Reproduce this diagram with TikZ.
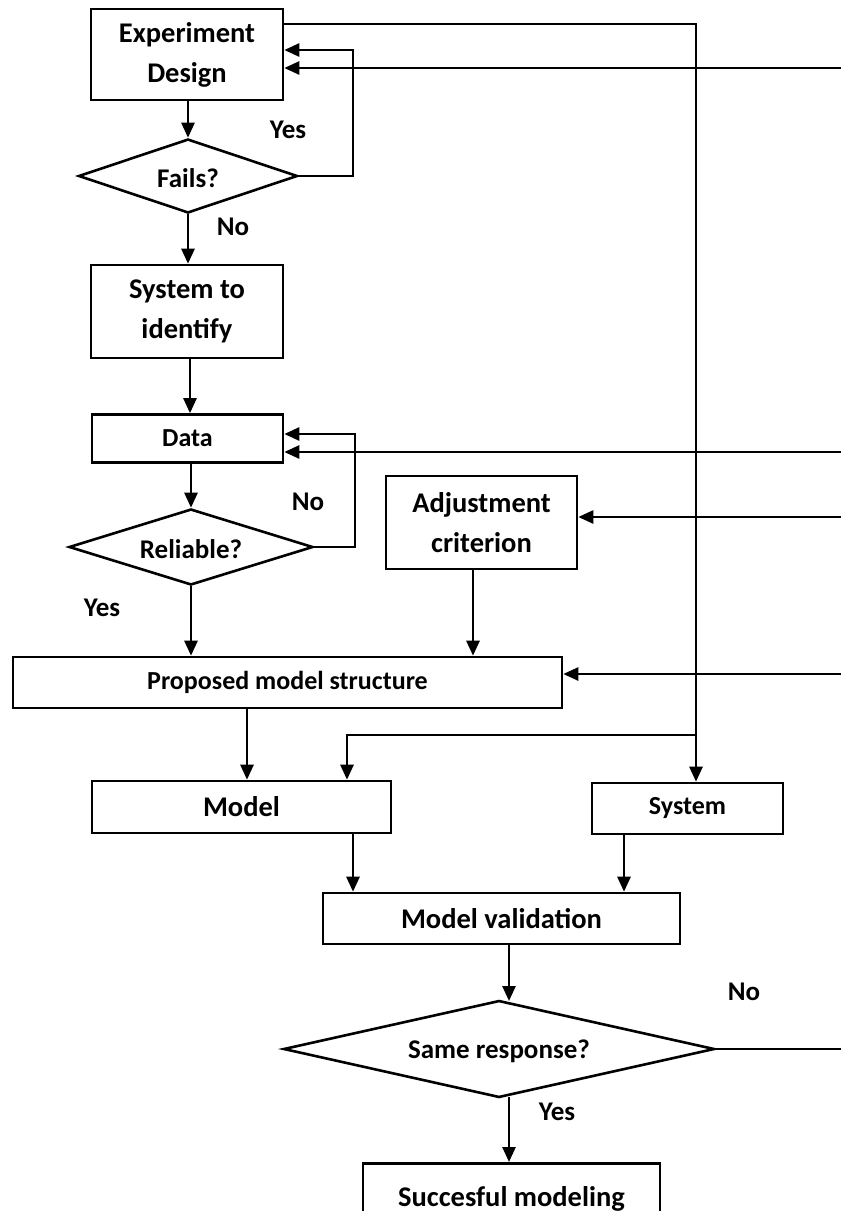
\documentclass[tikz,border=0pt]{standalone}
\usepackage{fontspec}
\setmainfont{Carlito}
\usetikzlibrary{arrows.meta,shapes.geometric}
\tikzset{
  box/.style={draw,line width=2.6pt,rectangle,inner sep=0pt,align=center,font=\bfseries\fontsize{28.5}{40}\selectfont},
  sbox/.style={box,font=\bfseries\fontsize{26}{30}\selectfont},
  dia/.style={draw,line width=2.6pt,diamond,inner sep=0pt},
  lab/.style={font=\bfseries\fontsize{27}{30}\selectfont,inner sep=0pt},
  conn/.style={line width=2.6pt},
  arr/.style={conn,-{Triangle[length=15pt,width=13pt]}},
}
\begin{document}
\begin{tikzpicture}[x=1pt,y=-1pt]
\useasboundingbox (0,0) rectangle (841,1211);
\clip (0,0) rectangle (841,1211);
% boxes
\node[box,minimum width=192pt,minimum height=91pt] (ed) at (187,54.5) {Experiment\\Design};
\node[dia,minimum width=219pt,minimum height=74pt,aspect=2.96] (fails) at (188,176) {};
\node[lab] (failst) at (188,178) {Fails?};
\node[box,minimum width=192pt,minimum height=93pt] (sti) at (187,311.5) {System to\\identify};
\node[sbox,minimum width=191pt,minimum height=48pt] (data) at (187.5,438.5) {Data};
\node[dia,minimum width=244pt,minimum height=76pt,aspect=3.2] (rel) at (191,547) {};
\node[lab] (relt) at (191,549) {Reliable?};
\node[box,minimum width=191pt,minimum height=93pt] (adj) at (481.5,522.5) {Adjustment\\criterion};
\node[sbox,minimum width=549pt,minimum height=51pt] (pms) at (287.5,682.5) {Proposed model structure};
\node[box,minimum width=299pt,minimum height=52pt] (model) at (241.5,807) {Model};
\node[sbox,minimum width=191pt,minimum height=51pt] (sys) at (687.5,808.5) {System};
\node[box,minimum width=357pt,minimum height=51pt] (mv) at (501.5,918.5) {Model validation};
\node[dia,minimum width=431pt,minimum height=97pt,aspect=4.44] (same) at (499,1049) {};
\node[lab] (samet) at (499,1051) {Same response?};
\node[box,minimum width=297pt,minimum height=90pt,anchor=north] (succ) at (511.5,1162) {};
\node[box,draw=none,anchor=base] (succt) at (511.5,1206) {Succesful modeling};
% labels
\node[lab] (y1) at (288,130) {Yes};
\node[lab] (n1) at (233,227) {No};
\node[lab] (n2) at (308,502) {No};
\node[lab] (y2) at (102,608) {Yes};
\node[lab] (n3) at (744,992) {No};
\node[lab] (y3) at (557,1112) {Yes};
% coordinates
\coordinate (vtop) at (696,24);
\coordinate (vbr) at (696,735);
\coordinate (bl) at (347,735);
\coordinate (r1) at (841,68);
\coordinate (r2) at (841,452);
\coordinate (r3) at (841,517);
\coordinate (r4) at (841,674);
\coordinate (r5) at (841,1049);
% main flow
\draw[arr] (ed.south -| fails.north) -- (fails.north);
\draw[arr] (fails.south) -- (sti.north -| fails.south);
\draw[arr] (sti.south -| 190,0) -- (data.north -| 190,0);
\draw[arr] (data.south -| rel.north) -- (rel.north);
\draw[arr] (rel.south) -- (pms.north -| rel.south);
\draw[arr] (adj.south -| 473,0) -- (pms.north -| 473,0);
\draw[arr] (pms.south -| 247,0) -- (model.north -| 247,0);
\draw[arr] (model.south -| 353,0) -- (mv.north -| 353,0);
\draw[arr] (sys.south -| 624,0) -- (mv.north -| 624,0);
\draw[arr] (mv.south -| 509,0) -- (509,1001);
\draw[arr] (509,1097) -- (succ.north -| 509,0);
% loops
\draw[arr] (fails.east) -| (353,50) -- (ed.east |- 0,50);
\draw[arr] (rel.east) -| (355,434) -- (data.east |- 0,434);
% big vertical line
\draw[conn] (ed.east |- vtop) -- (vtop) -- (vbr);
\draw[arr] (vbr) -- (sys.north -| vbr);
\draw[arr] (vbr) -- (bl) -- (model.north -| bl);
% right-edge feedback lines
\draw[arr] (r1) -- (ed.east |- r1);
\draw[arr] (r2) -- (data.east |- r2);
\draw[arr] (r3) -- (adj.east |- r3);
\draw[arr] (r4) -- (pms.east |- r4);
\draw[conn] (same.east) -- (r5);
\end{tikzpicture}
\end{document}
